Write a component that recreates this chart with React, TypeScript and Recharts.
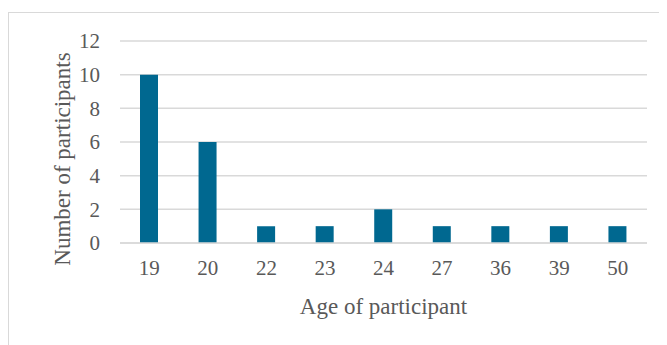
import { BarChart, Bar, XAxis, YAxis, CartesianGrid } from "recharts";

const ages = ["19", "20", "22", "23", "24", "27", "36", "39", "50"];
const counts = [10, 6, 1, 1, 2, 1, 1, 1, 1];
const yTicks = [0, 2, 4, 6, 8, 10, 12];

const data = ages.map((age, i) => ({ age, count: counts[i] }));

const FONT = "Liberation Serif, DejaVu Serif, serif";
const TEXT = "#595959";
const GRID = "#d9d9d9";

function YTitle({ viewBox }: any) {
  const x = viewBox.x + 54;
  const y = 151;
  return (
    <text
      x={x}
      y={y}
      transform={`rotate(-90, ${x}, ${y})`}
      textAnchor="middle"
      dominantBaseline="central"
      fill={TEXT}
      style={{ fontFamily: FONT, fontSize: 23 }}
    >
      Number of participants
    </text>
  );
}

function XTitle({ viewBox }: any) {
  return (
    <text
      x={viewBox.x + viewBox.width / 2}
      y={298}
      textAnchor="middle"
      dominantBaseline="central"
      fill={TEXT}
      style={{ fontFamily: FONT, fontSize: 23 }}
    >
      Age of participant
    </text>
  );
}

export default function App() {
  return (
    <div style={{ position: "relative", width: 659, height: 337 }}>
      <div
        style={{
          position: "absolute",
          left: 0,
          top: 4,
          width: 659,
          height: 333,
          borderTop: `1.5px solid ${GRID}`,
          borderLeft: `1.5px solid ${GRID}`,
          boxSizing: "border-box",
        }}
      />
      <BarChart
        width={659}
        height={337}
        data={data}
        margin={{ top: 33, right: 20, left: 0, bottom: 52 }}
        style={{ position: "absolute", left: 0, top: 0 }}
      >
        <CartesianGrid vertical={false} stroke={GRID} strokeWidth={1.5} />
        <XAxis
          dataKey="age"
          height={50}
          tickLine={false}
          tickSize={0}
          tickMargin={17}
          axisLine={{ stroke: GRID, strokeWidth: 1.5 }}
          tick={{ fill: TEXT, fontFamily: FONT, fontSize: 21 }}
          label={<XTitle />}
        />
        <YAxis
          width={112}
          domain={[0, 12]}
          ticks={yTicks}
          axisLine={false}
          tickLine={false}
          tickSize={0}
          tickMargin={20}
          tick={{ fill: TEXT, fontFamily: FONT, fontSize: 21 }}
          label={<YTitle />}
        />
        <Bar dataKey="count" fill="#006890" barSize={18} isAnimationActive={false} />
      </BarChart>
    </div>
  );
}
